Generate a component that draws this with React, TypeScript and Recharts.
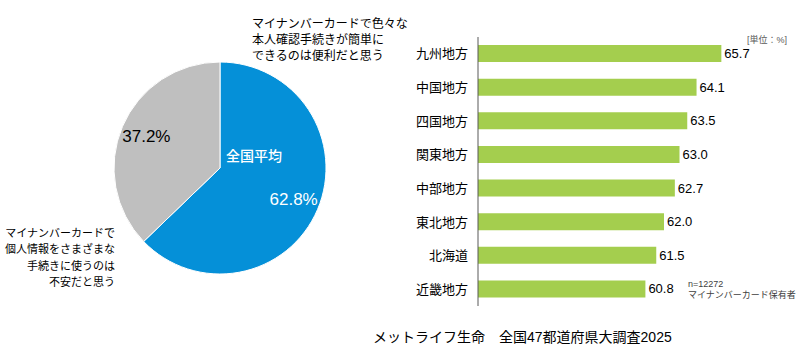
import React from "react";
import {
  PieChart,
  Pie,
  Cell,
  BarChart,
  Bar,
  XAxis,
  YAxis,
  LabelList,
} from "recharts";

const pieNames = ["便利だと思う", "不安だと思う"];
const pieValues = [62.8, 37.2];
const pieColors = ["#0590d8", "#bfbfbf"];

const regions = [
  "九州地方",
  "中国地方",
  "四国地方",
  "関東地方",
  "中部地方",
  "東北地方",
  "北海道",
  "近畿地方",
];
const regionValues = [65.7, 64.1, 63.5, 63.0, 62.7, 62.0, 61.5, 60.8];

const FONT = "'Liberation Sans', Arial, 'Noto Sans CJK JP', sans-serif";
const RADIAN = Math.PI / 180;

const pieData = pieNames.map((name, i) => ({ name, value: pieValues[i] }));
const barData = regions.map((name, i) => ({ name, value: regionValues[i] }));

const renderPieLabel = (props: any) => {
  const { cx, cy, midAngle, value, index } = props;
  const r = 80;
  const x = cx + r * Math.cos(-midAngle * RADIAN);
  const y = cy + r * Math.sin(-midAngle * RADIAN);
  const color = index === 0 ? "#fff" : "#000";
  return (
    <g>
      {index === 0 && (
        <text
          x={cx + 6}
          y={cy - 12}
          fill="#fff"
          fontSize={14}
          fontWeight={500}
          fontFamily={FONT}
          dominantBaseline="central"
        >
          全国平均
        </text>
      )}
      <text
        x={x}
        y={y}
        fill={color}
        fontSize={17}
        fontFamily={FONT}
        textAnchor="middle"
        dominantBaseline="central"
      >
        {value.toFixed(1)}%
      </text>
    </g>
  );
};

export default function App() {
  return (
    <div
      style={{
        position: "absolute",
        left: 0,
        top: 0,
        width: 800,
        height: 351,
        background: "#fff",
        fontFamily: FONT,
        color: "#000",
      }}
    >
      <div style={{ position: "absolute", left: 0, top: 0 }}>
        <PieChart
          width={440}
          height={351}
          margin={{ top: 0, right: 0, bottom: 0, left: 0 }}
        >
          <Pie
            data={pieData}
            dataKey="value"
            cx={220}
            cy={168}
            outerRadius={106}
            startAngle={90}
            endAngle={-270}
            stroke="#fff"
            strokeWidth={1}
            label={renderPieLabel}
            labelLine={false}
            isAnimationActive={false}
          >
            {pieData.map((d, i) => (
              <Cell key={d.name} fill={pieColors[i]} />
            ))}
          </Pie>
        </PieChart>
      </div>

      {/* pie annotations */}
      <div
        style={{
          position: "absolute",
          left: 252,
          top: 16,
          fontSize: 12,
          lineHeight: "16px",
          whiteSpace: "nowrap",
        }}
      >
        マイナンバーカードで色々な
        <br />
        本人確認手続きが簡単に
        <br />
        できるのは便利だと思う
      </div>
      <div
        style={{
          position: "absolute",
          right: 685,
          top: 225,
          fontSize: 11,
          lineHeight: "16.3px",
          textAlign: "right",
          whiteSpace: "nowrap",
        }}
      >
        マイナンバーカードで
        <br />
        個人情報をさまざまな
        <br />
        手続きに使うのは
        <br />
        不安だと思う
      </div>

      <div style={{ position: "absolute", left: 400, top: 0 }}>
        <BarChart
          width={400}
          height={351}
          data={barData}
          layout="vertical"
          margin={{ top: 37, right: 12, bottom: 45, left: 0 }}
          barSize={17}
        >
          <XAxis type="number" domain={[50, 70]} hide />
          <YAxis
            type="category"
            dataKey="name"
            width={78}
            tickLine={false}
            tickMargin={4}
            axisLine={{ stroke: "#595959", strokeWidth: 1 }}
            tick={{ fill: "#000", fontSize: 13, fontFamily: FONT }}
          />
          <Bar dataKey="value" fill="#a4ce4e" isAnimationActive={false}>
            <LabelList
              dataKey="value"
              position="right"
              offset={3}
              fill="#000"
              fontSize={13}
              fontFamily={FONT}
              formatter={(v: any) => Number(v).toFixed(1)}
            />
          </Bar>
        </BarChart>
      </div>

      <div
        style={{
          position: "absolute",
          right: 13,
          top: 33,
          fontSize: 9,
          color: "#595959",
          whiteSpace: "nowrap",
        }}
      >
        [単位：%]
      </div>
      <div
        style={{
          position: "absolute",
          left: 688,
          top: 279,
          fontSize: 9,
          lineHeight: "11px",
          color: "#404040",
          whiteSpace: "nowrap",
        }}
      >
        n=12272
        <br />
        マイナンバーカード保有者
      </div>

      <div
        style={{
          position: "absolute",
          left: 373,
          top: 326,
          fontSize: 14,
          whiteSpace: "nowrap",
        }}
      >
        メットライフ生命　全国47都道府県大調査2025
      </div>
    </div>
  );
}
